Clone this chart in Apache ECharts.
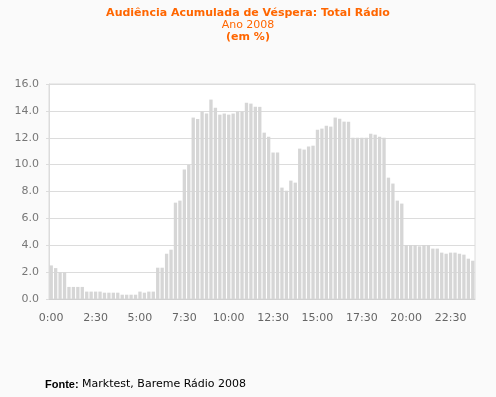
<!DOCTYPE html>
<html>
<head>
<meta charset="utf-8">
<script src="https://cdn.jsdelivr.net/npm/echarts@6/dist/echarts.min.js"></script>
<style>
  html, body { margin:0; padding:0; background:#fafafa; }
  #main { width:496px; height:397px; }
</style>
</head>
<body>
<div id="main"></div>
<script>
// time slots, every 15 minutes
var times = [];
for (var h = 0; h < 24; h++) {
  for (var m = 0; m < 60; m += 15) {
    times.push(h + ':' + (m < 10 ? '0' + m : m));
  }
}

// audiencia acumulada (%)
var audiencia = [
  2.5, 2.3, 2.0, 2.0, 0.9, 0.9, 0.9, 0.9, 0.55, 0.55,
  0.55, 0.55, 0.47, 0.47, 0.47, 0.47, 0.32, 0.32, 0.32, 0.32,
  0.55, 0.47, 0.55, 0.55, 2.33, 2.33, 3.37, 3.67, 7.17, 7.32,
  9.63, 9.98, 13.5, 13.4, 13.95, 13.8, 14.84, 14.24, 13.72, 13.8,
  13.72, 13.8, 13.95, 13.95, 14.6, 14.54, 14.3, 14.3, 12.38, 12.08,
  10.9, 10.9, 8.29, 8.06, 8.81, 8.66, 11.19, 11.12, 11.34, 11.41,
  12.6, 12.68, 12.9, 12.83, 13.5, 13.42, 13.2, 13.2, 12.0, 12.0,
  12.0, 12.0, 12.3, 12.23, 12.08, 12.0, 9.03, 8.59, 7.32, 7.1,
  4.02, 4.02, 4.02, 3.92, 4.02, 4.02, 3.75, 3.75, 3.45, 3.37,
  3.45, 3.45, 3.37, 3.3, 3.0, 2.85
];

var chart = echarts.init(document.getElementById('main'));
chart.setOption({
  backgroundColor: '#fafafa',
  animation: false,
  textStyle: { fontFamily: 'DejaVu Sans' },
  title: {
    left: 'center',
    top: 2,
    text: '{t|Audiência Acumulada de Véspera: Total Rádio}\n{s|Ano 2008}\n{b|(em %)}',
    textStyle: {
      fontWeight: 'normal',
      rich: {
        t: { color: '#ff6600', fontWeight: 'bold', fontSize: 11, lineHeight: 12 },
        s: { color: '#ff6600', fontWeight: 'normal', fontSize: 11, lineHeight: 12 },
        b: { color: '#ff6600', fontWeight: 'bold', fontSize: 11, lineHeight: 12 }
      }
    }
  },
  grid: {
    left: 49, right: 21, top: 84, bottom: 98,
    show: true,
    backgroundColor: '#fff',
    borderColor: '#dcdcdc',
    borderWidth: 1
  },
  xAxis: {
    type: 'category',
    data: times,
    axisLine: { lineStyle: { color: '#d0d0d0' } },
    axisTick: { interval: 0, length: 4, lineStyle: { color: '#d0d0d0' } },
    axisLabel: { interval: 9, color: '#666', fontSize: 11, margin: 14 }
  },
  yAxis: {
    type: 'value',
    min: 0, max: 16, interval: 2,
    axisLine: { show: true, lineStyle: { color: '#dcdcdc' } },
    axisTick: { show: true, length: 3, lineStyle: { color: '#dcdcdc' } },
    splitLine: { lineStyle: { color: '#dcdcdc' } },
    axisLabel: {
      color: '#777', fontSize: 11, margin: 10,
      formatter: function (v) { return v.toFixed(1); }
    }
  },
  series: [{
    type: 'bar',
    data: audiencia,
    barCategoryGap: '25%',
    itemStyle: { color: '#d6d6d6' }
  }],
  graphic: [{
    type: 'text',
    left: 45,
    top: 379,
    style: {
      text: '{b|Fonte:} Marktest, Bareme Rádio 2008',
      fill: '#000',
      font: '11px DejaVu Sans',
      rich: { b: { fontWeight: 'bold', fontSize: 11, fill: '#000' } }
    }
  }]
});
</script>
</body>
</html>
